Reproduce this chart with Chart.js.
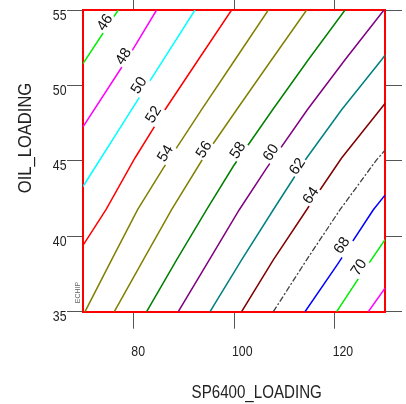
<!DOCTYPE html>
<html>
<head>
<meta charset="utf-8">
<style>
  html, body { margin: 0; padding: 0; background: #ffffff; }
  #wrap { width: 406px; height: 404px; }
</style>
<script src="https://cdn.jsdelivr.net/npm/chart.js@4.4.1/dist/chart.umd.min.js"></script>
</head>
<body>
<div id="wrap"><canvas id="c" width="406" height="404"></canvas></div>
<script>
// Axis ranges and tick values
const spRange = [70, 130];
const oilRange = [35, 55];
const spTicks = [80, 100, 120];
const oilTicks = [35, 40, 45, 50, 55];

// Contour levels of the fitted response
const levels = [46, 48, 50, 52, 54, 56, 58, 60, 62, 64, 66, 68, 70, 72];

// Contour paths as [SP6400_LOADING, OIL_LOADING] pairs
const c46 = [[70, 51.45], [77.0, 55]];
const c48 = [[70, 47.25], [78.66, 51.70], [84.62, 55]];
const c50 = [[70, 43.3], [79.66, 48.39], [85.95, 51.70], [92.25, 55]];
const c52 = [[70, 39.4], [74.57, 41.76], [80.33, 45.19], [86.29, 48.39], [92.91, 51.70], [99.52, 55]];
const c54 = [[70.4, 35], [75.68, 38.44], [80.85, 41.76], [85.95, 44.52], [93.56, 48.39], [100.20, 51.70], [106.82, 55]];
const c56 = [[76.22, 35], [81.98, 38.44], [87.6, 41.76], [93.9, 45.19], [100.52, 48.39], [107.47, 51.70], [114.43, 55]];
const c58 = [[82.64, 35], [88.6, 38.44], [94.56, 41.76], [99.86, 44.64], [107.67, 48.39], [114.76, 51.70], [122.06, 55]];
const c60 = [[88.93, 35], [95.09, 38.44], [101.05, 41.76], [106.48, 44.52], [114.57, 48.39], [122.06, 51.70], [129.8, 55]];
const c62 = [[95.23, 35], [101.51, 38.44], [107.81, 41.76], [114.43, 45.19], [121.38, 48.39], [129.33, 51.70], [130, 52.0]];
const c64 = [[101.51, 35], [107.81, 38.44], [115.76, 42.42], [121.38, 45.19], [130, 48.8]];
const c66 = [[107.81, 35], [114.43, 38.44], [121.06, 41.76], [128.33, 45.07], [130, 45.7]];
const c68 = [[114.11, 35], [120.73, 38.22], [127.68, 41.76], [130, 42.73]];
const c70 = [[120.39, 35], [124.36, 37.01], [130, 39.77]];
const c72 = [[126.69, 35], [130, 36.56]];
const contourPaths = [c46, c48, c50, c52, c54, c56, c58, c60, c62, c64, c66, c68, c70, c72];

// Inline contour labels: level and centre position
const labelLevels = [46, 48, 50, 52, 54, 56, 58, 60, 62, 64, 68, 70];
const labelSP  = [74.23, 77.91, 80.99, 83.87, 86.25, 93.90, 100.66, 107.22, 112.48, 115.16, 121.32, 124.70];
const labelOil = [54.20, 51.95, 50.03, 48.10, 45.52, 45.78, 45.72, 45.58, 44.66, 42.73, 39.42, 37.96];

// Line styling per level
const lineColors = ['#00ee00', '#ff00ff', '#00ffff', '#ff0000', '#808000', '#808000', '#008000',
                    '#800080', '#008080', '#800000', '#404040', '#0000ff', '#00ee00', '#ff00ff'];
const dashedLevels = [66];

const FONT = '"Liberation Sans", Arial, Helvetica, sans-serif';

const datasets = levels.map((lev, i) => ({
  label: String(lev),
  data: contourPaths[i].map(([x, y]) => ({ x, y })),
  showLine: true,
  borderColor: lineColors[i],
  borderWidth: dashedLevels.includes(lev) ? 1.3 : 1.5,
  borderDash: dashedLevels.includes(lev) ? [6, 2, 2, 2] : [],
  pointRadius: 0,
  tension: 0,
  fill: false
}));

function xAxis(position, tickLength, size) {
  return {
    type: 'linear', position, min: spRange[0], max: spRange[1], z: 1,
    afterBuildTicks: s => { s.ticks = spTicks.map(v => ({ value: v })); },
    afterFit: s => { s.height = size; },
    ticks: { display: false },
    grid: { display: true, drawOnChartArea: false, drawTicks: true, tickLength,
            tickColor: '#555555', tickWidth: 1, color: '#555555' },
    border: { display: true, color: '#ff0000', width: 2 }
  };
}
function yAxis(position, tickLength, size) {
  return {
    type: 'linear', position, min: oilRange[0], max: oilRange[1], z: 1,
    afterBuildTicks: s => { s.ticks = oilTicks.map(v => ({ value: v })); },
    afterFit: s => { s.width = size; },
    ticks: { display: false },
    grid: { display: true, drawOnChartArea: false, drawTicks: true, tickLength,
            tickColor: '#555555', tickWidth: 1, color: '#555555' },
    border: { display: true, color: '#ff0000', width: 2 }
  };
}

function drawText(ctx, text, x, y, size, sx, align, baseline, rot, color) {
  ctx.save();
  ctx.translate(x, y);
  if (rot) ctx.rotate(rot);
  ctx.scale(sx, 1);
  ctx.font = size + 'px ' + FONT;
  ctx.fillStyle = color || '#222222';
  ctx.textAlign = align;
  ctx.textBaseline = baseline;
  ctx.fillText(text, 0, 0);
  ctx.restore();
}

// Level numbers written along each contour, with the line broken beneath them
const contourLabels = {
  id: 'contourLabels',
  afterDatasetsDraw(chart) {
    const { ctx, chartArea: a, scales: { x, y } } = chart;
    ctx.save();
    ctx.beginPath();
    ctx.rect(a.left + 1, a.top + 1, a.right - a.left - 2, a.bottom - a.top - 2);
    ctx.clip();
    labelLevels.forEach((lev, i) => {
      const path = contourPaths[levels.indexOf(lev)];
      const p0 = path[0], p1 = path[path.length - 1];
      const ang = Math.atan2(y.getPixelForValue(p1[1]) - y.getPixelForValue(p0[1]),
                             x.getPixelForValue(p1[0]) - x.getPixelForValue(p0[0]));
      const cx = x.getPixelForValue(labelSP[i]);
      const cy = y.getPixelForValue(labelOil[i]);
      ctx.save();
      ctx.translate(cx, cy);
      ctx.rotate(ang);
      ctx.font = '15px ' + FONT;
      const w = ctx.measureText(String(lev)).width;
      ctx.fillStyle = '#ffffff';
      ctx.fillRect(-w / 2 - 1.5, -7, w + 3, 17);
      ctx.fillStyle = '#111111';
      ctx.textAlign = 'center';
      ctx.textBaseline = 'middle';
      ctx.fillText(String(lev), 0, 1);
      ctx.restore();
    });
    ctx.restore();
  }
};

// Tick labels, axis titles and the program mark
const axisText = {
  id: 'axisText',
  afterDraw(chart) {
    const { ctx, scales: { x, y } } = chart;
    spTicks.forEach(v => {
      drawText(ctx, String(v), x.getPixelForValue(v) - 2, 356, 15, 0.82, 'left', 'alphabetic');
    });
    oilTicks.forEach(v => {
      drawText(ctx, String(v), 66.5, y.getPixelForValue(v) + 9.5, 15, 0.82, 'right', 'alphabetic');
    });
    drawText(ctx, 'SP6400_LOADING', 256.7, 398, 18, 0.84, 'center', 'alphabetic');
    drawText(ctx, 'OIL_LOADING', 30.7, 138, 18, 0.92, 'center', 'alphabetic', -Math.PI / 2);
    drawText(ctx, 'ECHIP', 80, 292.5, 7, 1, 'center', 'alphabetic', -Math.PI / 2, '#666666');
  }
};

new Chart(document.getElementById('c'), {
  type: 'scatter',
  data: { datasets },
  options: {
    responsive: false,
    animation: false,
    events: [],
    layout: { padding: 0 },
    plugins: { legend: { display: false }, tooltip: { enabled: false }, title: { display: false } },
    scales: {
      x: xAxis('bottom', 17, 92.3),
      x2: xAxis('top', 16, 10),
      y: yAxis('left', 16, 83),
      y2: yAxis('right', 17, 21)
    }
  },
  plugins: [contourLabels, axisText]
});
</script>
</body>
</html>
